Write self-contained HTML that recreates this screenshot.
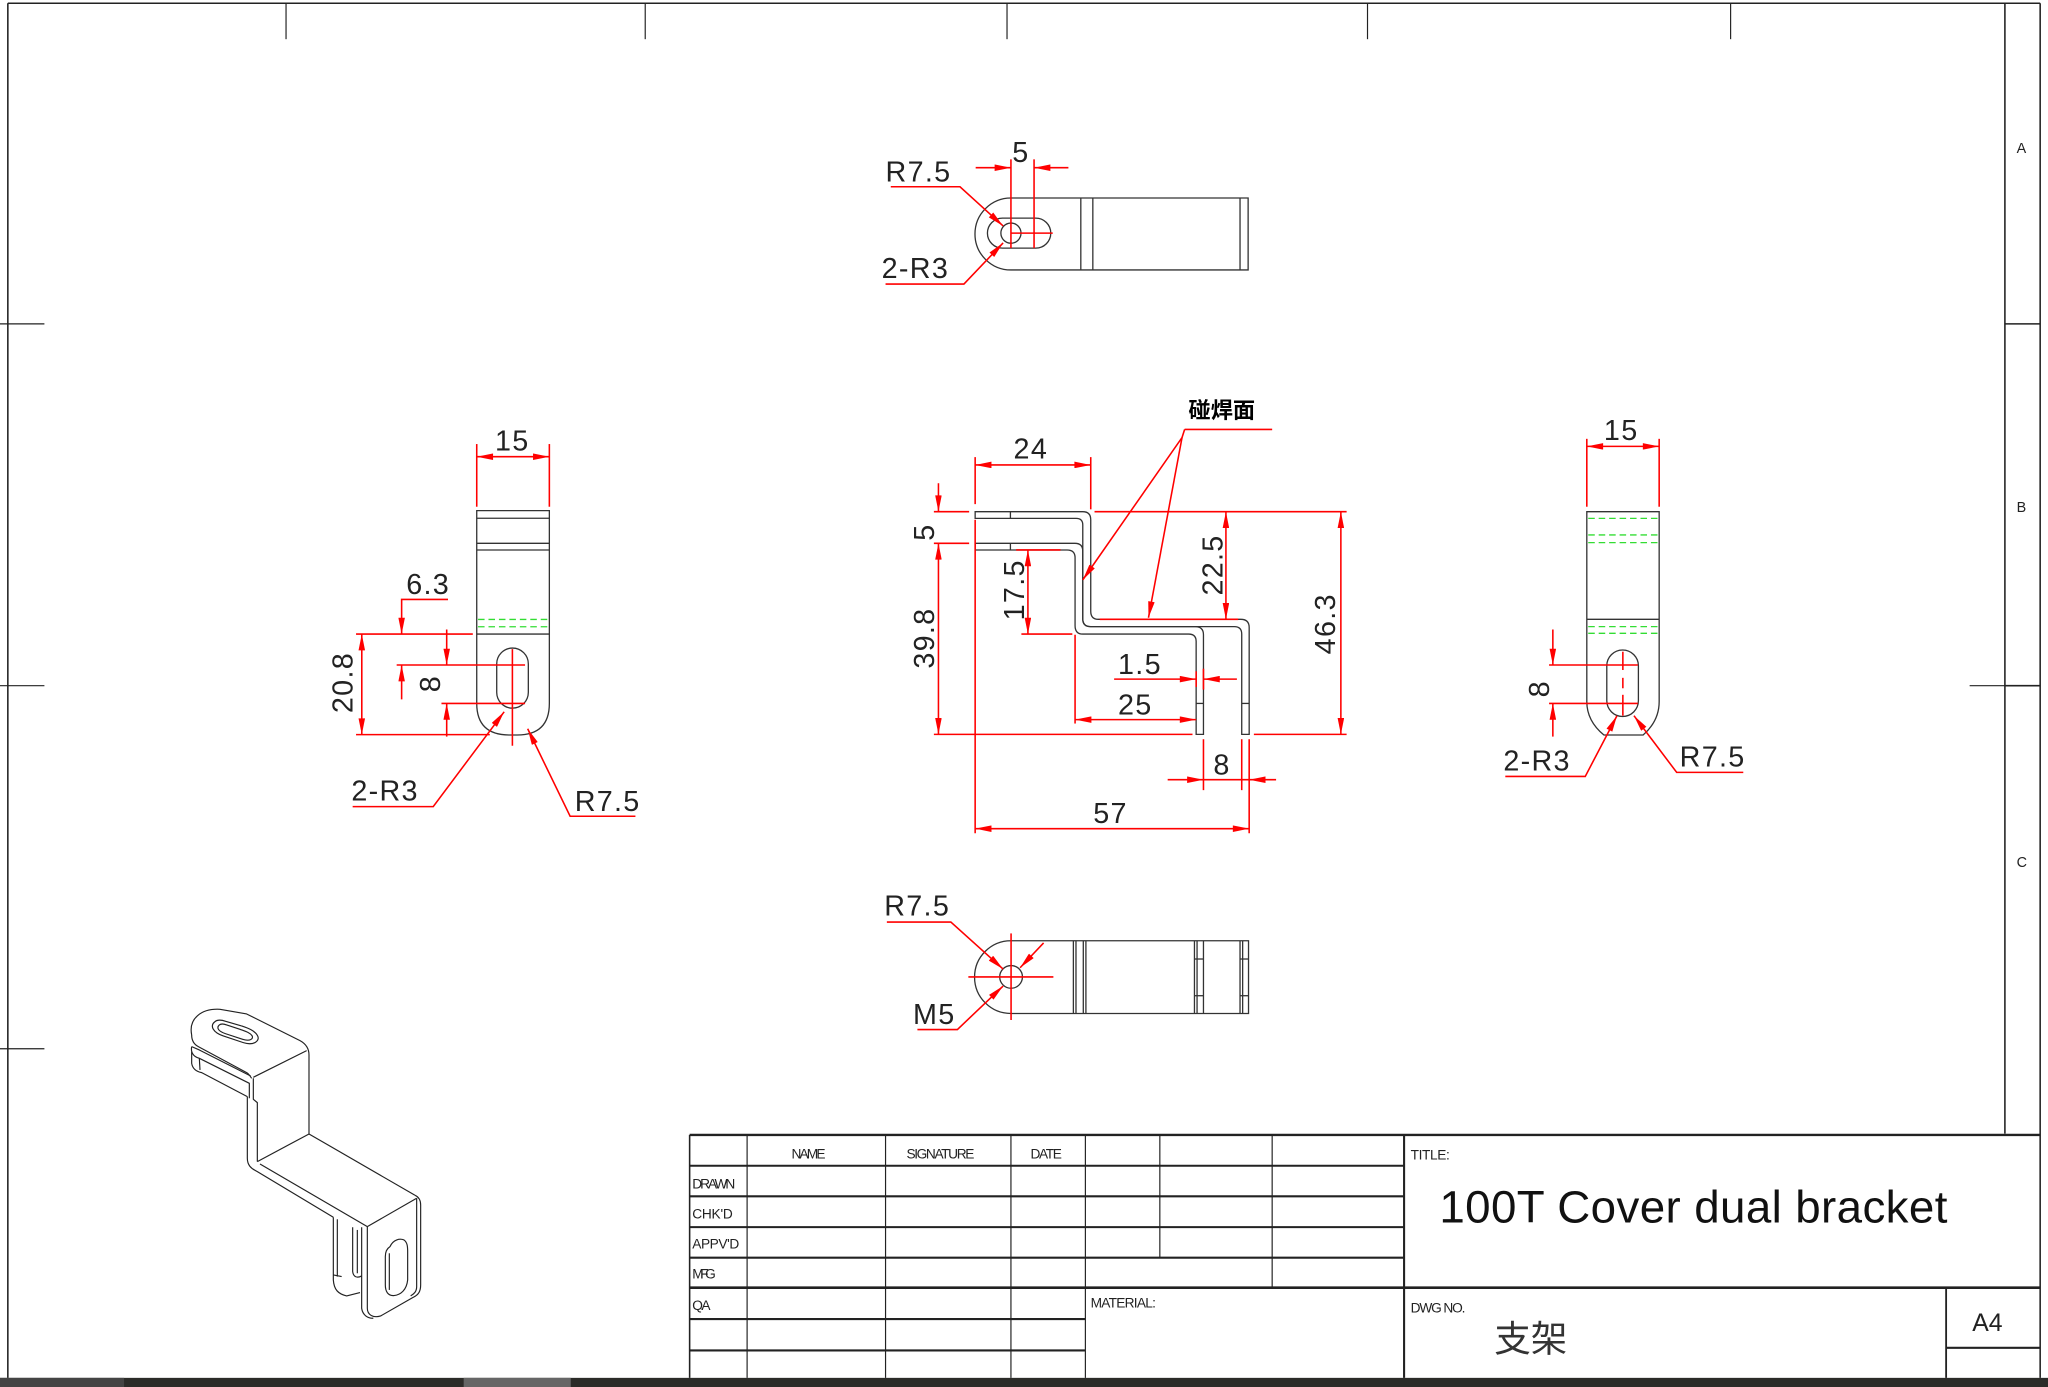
<!DOCTYPE html>
<html><head><meta charset="utf-8"><style>
html,body{margin:0;padding:0;background:#fff;}
svg{display:block;}
text{font-family:"Liberation Sans","Noto Sans CJK SC",sans-serif;}
</style></head><body>
<svg width="2048" height="1387" viewBox="0 0 1568 1062" preserveAspectRatio="none" xmlns="http://www.w3.org/2000/svg">
<defs>
<marker id="a" viewBox="0 0 10 4" refX="10" refY="2" markerWidth="14" markerHeight="5" markerUnits="userSpaceOnUse" orient="auto-start-reverse"><path d="M0,0 L10,2 L0,4z" fill="#f00"/></marker>
</defs>
<rect width="1568" height="1062" fill="#fff"/>
<!-- frame -->
<g stroke="#222" stroke-width="1.2" fill="none">
<line x1="6" y1="2.5" x2="1562" y2="2.5"/>
<line x1="6" y1="2.5" x2="6" y2="1055"/>
<line x1="1562" y1="2.5" x2="1562" y2="1055"/>
<line x1="1535" y1="2.5" x2="1535" y2="868"/>
<line x1="1535" y1="248" x2="1562" y2="248"/>
<line x1="1535" y1="525" x2="1562" y2="525"/>
<line x1="1508" y1="525" x2="1535" y2="525" stroke-width="0.9"/>
<g stroke-width="0.9">
<line x1="219" y1="2" x2="219" y2="30"/><line x1="494" y1="2" x2="494" y2="30"/>
<line x1="771" y1="2" x2="771" y2="30"/><line x1="1047" y1="2" x2="1047" y2="30"/>
<line x1="1325" y1="2" x2="1325" y2="30"/>
<line x1="0" y1="248" x2="34" y2="248"/><line x1="0" y1="525" x2="34" y2="525"/>
<line x1="0" y1="803" x2="34" y2="803"/>
</g>
</g>
<g font-size="11" fill="#222" font-family="Liberation Mono, monospace">
<text x="1544" y="117">A</text><text x="1544" y="392">B</text><text x="1544" y="664">C</text>
</g>
<rect x="0" y="1055" width="1568" height="7" fill="#2b2b28"/>
<rect x="0" y="1055" width="95" height="7" fill="#444"/>
<rect x="355" y="1055" width="82" height="7" fill="#666"/>

<!-- title block -->
<g stroke="#222" fill="none">
<line x1="528" y1="869" x2="1562" y2="869" stroke-width="1.8"/>
<line x1="528" y1="869" x2="528" y2="1055" stroke-width="1.2"/>
<line x1="1075" y1="869" x2="1075" y2="1055" stroke-width="1.6"/>
<g stroke-width="1.6">
<line x1="528" y1="892.6" x2="1075" y2="892.6"/><line x1="528" y1="916" x2="1075" y2="916"/>
<line x1="528" y1="939.6" x2="1075" y2="939.6"/><line x1="528" y1="963" x2="1075" y2="963"/>
<line x1="528" y1="986" x2="1562" y2="986" stroke-width="2"/>
<line x1="528" y1="1010" x2="831" y2="1010"/><line x1="528" y1="1034" x2="831" y2="1034"/>
<line x1="1490" y1="1032" x2="1562" y2="1032"/>
</g>
<g stroke-width="0.9">
<line x1="572" y1="869" x2="572" y2="1055"/><line x1="678" y1="869" x2="678" y2="1055"/>
<line x1="774" y1="869" x2="774" y2="1055"/><line x1="831" y1="869" x2="831" y2="1055"/>
<line x1="888" y1="869" x2="888" y2="963"/><line x1="974" y1="869" x2="974" y2="986"/>
<line x1="1490" y1="986" x2="1490" y2="1055" stroke-width="1.4"/>
</g>
</g>
<g font-family="Liberation Sans Narrow, Liberation Sans, sans-serif" font-size="10.5" fill="#222">
<text x="606" y="887" textLength="26">NAME</text>
<text x="694" y="887" textLength="52">SIGNATURE</text>
<text x="789" y="887" textLength="24">DATE</text>
<text x="530" y="910" textLength="33">DRAWN</text>
<text x="530" y="933" textLength="31">CHK'D</text>
<text x="530" y="956" textLength="36">APPV'D</text>
<text x="530" y="979" textLength="18">MFG</text>
<text x="530" y="1003" textLength="14">Q.A</text>
<text x="835" y="1001" textLength="50">MATERIAL:</text>
<text x="1080" y="888" textLength="30">TITLE:</text>
<text x="1080" y="1005" textLength="42">DWG NO.</text>
</g>
<text x="1102" y="936" font-size="35" fill="#111" textLength="389">100T Cover dual bracket</text>
<text x="1144" y="1035" font-size="28" fill="#333" font-family="Liberation Sans, Noto Sans CJK SC, sans-serif">支架</text>
<text x="1510" y="1019" font-size="19" fill="#222">A4</text>

<!-- ============ TOP VIEW ============ -->
<g stroke="#333" stroke-width="1" fill="none">
<path d="M774,151.6 H955.6 V206.7 H774 A27.55,27.55 0 0 1 774,151.6 Z"/>
<line x1="827.5" y1="151.6" x2="827.5" y2="206.7"/><line x1="836.7" y1="151.6" x2="836.7" y2="206.7"/>
<line x1="949.4" y1="151.6" x2="949.4" y2="206.7"/>
<rect x="756" y="167" width="48.5" height="23" rx="11.5"/>
<circle cx="774" cy="178.5" r="7.7"/>
</g>
<g stroke="#f00" stroke-width="1.2" fill="none">
<line x1="774" y1="122" x2="774" y2="190"/><line x1="791.7" y1="122" x2="791.7" y2="190"/>
<line x1="774" y1="178.5" x2="806" y2="178.5"/>
<line x1="747" y1="128.4" x2="774" y2="128.4" marker-end="url(#a)"/>
<line x1="818" y1="128.4" x2="791.7" y2="128.4" marker-end="url(#a)"/>
<polyline points="682,143 735,143 768,173" marker-end="url(#a)"/>
<polyline points="678,217.5 738,217.5 768,186" marker-end="url(#a)"/>
</g>
<g font-size="22" fill="#222" letter-spacing="1">
<text x="775" y="124">5</text>
<text x="678" y="139">R7.5</text>
<text x="675" y="213">2-R3</text>
</g>

<!-- ============ FRONT VIEW ============ -->
<g stroke="#333" stroke-width="1" fill="none">
<path d="M746.6,391.8 H829 Q835.1,391.8 835.1,398 V468 Q835.1,474.2 841,474.2 H950 Q956.4,474.2 956.4,480.5 V562.3 H950.7 V485.5 Q950.7,479.8 945,479.8 H835 Q829,479.8 829,474 V402 Q829,396.9 824,396.9 H746.6 Z"/>
<path d="M746.6,416 H823 Q829,416 829,422 V474 Q829,479.8 835,479.8 H915 Q921.4,479.8 921.4,486 V562.3 H915.8 V491 Q915.8,485.5 910,485.5 H829 Q823.1,485.5 823.1,479 V427 Q823.1,421.1 817,421.1 H746.6 Z"/>
<line x1="773.6" y1="391.8" x2="773.6" y2="396.9"/><line x1="773.6" y1="416" x2="773.6" y2="421.1"/>
<line x1="915.8" y1="538.6" x2="921.4" y2="538.6"/><line x1="950.7" y1="538.6" x2="956.4" y2="538.6"/>
</g>
<g stroke="#f00" stroke-width="1.2" fill="none">
<line x1="746.6" y1="350" x2="746.6" y2="386"/><line x1="835.1" y1="350" x2="835.1" y2="390"/>
<line x1="746.6" y1="356" x2="835.1" y2="356" marker-start="url(#a)" marker-end="url(#a)"/>
<line x1="715" y1="391.8" x2="742" y2="391.8"/><line x1="715" y1="416" x2="742" y2="416"/>
<line x1="718.5" y1="370" x2="718.5" y2="391.8" marker-end="url(#a)"/>
<line x1="718.5" y1="416" x2="718.5" y2="562.3" marker-start="url(#a)" marker-end="url(#a)"/>
<line x1="715" y1="562.3" x2="913" y2="562.3"/>
<line x1="778" y1="421.1" x2="812" y2="421.1"/><line x1="782" y1="485.5" x2="821" y2="485.5"/>
<line x1="787" y1="421.1" x2="787" y2="485.5" marker-start="url(#a)" marker-end="url(#a)"/>
<line x1="838" y1="391.8" x2="1031" y2="391.8"/><line x1="842" y1="474.2" x2="948" y2="474.2"/>
<line x1="938.6" y1="391.8" x2="938.6" y2="474.2" marker-start="url(#a)" marker-end="url(#a)"/>
<line x1="1026.6" y1="391.8" x2="1026.6" y2="562.3" marker-start="url(#a)" marker-end="url(#a)"/>
<line x1="960" y1="562.3" x2="1031" y2="562.3"/>
<line x1="853" y1="520" x2="915.8" y2="520" marker-end="url(#a)"/>
<line x1="947" y1="520" x2="921.4" y2="520" marker-end="url(#a)"/>
<line x1="915.8" y1="514" x2="915.8" y2="526"/><line x1="921.4" y1="512" x2="921.4" y2="528"/>
<line x1="823.1" y1="486" x2="823.1" y2="554"/>
<line x1="823.1" y1="551" x2="915.8" y2="551" marker-start="url(#a)" marker-end="url(#a)"/>
<line x1="921.4" y1="566" x2="921.4" y2="605"/><line x1="950.7" y1="566" x2="950.7" y2="605"/>
<line x1="956.4" y1="566" x2="956.4" y2="638"/>
<line x1="894" y1="597" x2="921.4" y2="597" marker-end="url(#a)"/>
<line x1="977" y1="597" x2="956.4" y2="597" marker-end="url(#a)"/>
<line x1="921.4" y1="597" x2="956.4" y2="597"/>
<line x1="746.6" y1="398" x2="746.6" y2="638"/>
<line x1="746.6" y1="634.5" x2="956.4" y2="634.5" marker-start="url(#a)" marker-end="url(#a)"/>
<line x1="907" y1="328.8" x2="974" y2="328.8"/>
<polyline points="907,328.8 905,335 829,444" marker-end="url(#a)"/>
<line x1="905" y1="335" x2="879.3" y2="473" marker-end="url(#a)"/>
</g>
<g font-size="22" fill="#222" letter-spacing="1">
<text x="776" y="351">24</text>
<text x="856" y="516">1.5</text>
<text x="856" y="547">25</text>
<text x="929" y="593">8</text>
<text x="837" y="630">57</text>
<text transform="translate(715,414) rotate(-90)">5</text>
<text transform="translate(715,512) rotate(-90)">39.8</text>
<text transform="translate(784,475) rotate(-90)">17.5</text>
<text transform="translate(936,456) rotate(-90)">22.5</text>
<text transform="translate(1022,501) rotate(-90)">46.3</text>
</g>
<text x="910" y="320" font-size="17" font-weight="bold" fill="#000" font-family="Noto Sans CJK SC, sans-serif">碰焊面</text>

<!-- ============ LEFT VIEW ============ -->
<g stroke="#333" stroke-width="1" fill="none">
<path d="M365,391 H420.6 V538.6 Q420.6,562.8 396,562.8 H390 Q365,562.8 365,538.6 Z"/>
<line x1="365" y1="396.8" x2="420.6" y2="396.8"/><line x1="365" y1="416" x2="420.6" y2="416"/>
<line x1="365" y1="421.1" x2="420.6" y2="421.1"/><line x1="365" y1="485.5" x2="420.6" y2="485.5"/>
<rect x="380.3" y="496.2" width="24.2" height="46" rx="12.1"/>
</g>
<g stroke="#3d3" stroke-width="1" stroke-dasharray="5,3">
<line x1="366" y1="474.3" x2="420" y2="474.3"/><line x1="366" y1="479.9" x2="420" y2="479.9"/>
</g>
<g stroke="#f00" stroke-width="1.2" fill="none">
<line x1="365" y1="340" x2="365" y2="388"/><line x1="420.6" y1="340" x2="420.6" y2="388"/>
<line x1="365" y1="349.7" x2="420.6" y2="349.7" marker-start="url(#a)" marker-end="url(#a)"/>
<line x1="392.3" y1="497" x2="392.3" y2="571"/>
<line x1="272.6" y1="485.5" x2="362" y2="485.5"/>
<line x1="272.6" y1="562.5" x2="375" y2="562.5"/>
<line x1="277" y1="485.5" x2="277" y2="562.5" marker-start="url(#a)" marker-end="url(#a)"/>
<line x1="303.7" y1="509.2" x2="402" y2="509.2"/><line x1="338" y1="538.6" x2="402" y2="538.6"/>
<polyline points="343,459 307.5,459 307.5,485.5" marker-end="url(#a)"/>
<line x1="307.5" y1="535.5" x2="307.5" y2="509.2" marker-end="url(#a)"/>
<line x1="342" y1="482" x2="342" y2="509.2" marker-end="url(#a)"/>
<line x1="342" y1="564" x2="342" y2="538.6" marker-end="url(#a)"/>
<polyline points="270,617.6 331.7,617.6 386,545" marker-end="url(#a)"/>
<polyline points="486.5,625 436.5,625 404,558" marker-end="url(#a)"/>
</g>
<g font-size="22" fill="#222" letter-spacing="1">
<text x="379" y="345">15</text>
<text x="311" y="455">6.3</text>
<text x="269" y="613">2-R3</text>
<text x="440" y="621">R7.5</text>
<text transform="translate(270,546) rotate(-90)">20.8</text>
<text transform="translate(337,530) rotate(-90)">8</text>
</g>

<!-- ============ RIGHT VIEW ============ -->
<g stroke="#333" stroke-width="1" fill="none">
<path d="M1214.9,391.8 H1270.3 V537.2 Q1270.3,552 1258,562.8 H1228 Q1214.9,552 1214.9,537.2 Z"/>
<line x1="1214.9" y1="474.2" x2="1270.3" y2="474.2"/>
<rect x="1230.2" y="497.7" width="24.2" height="50.9" rx="12.1"/>
</g>
<g stroke="#3d3" stroke-width="1" stroke-dasharray="5,3">
<line x1="1216" y1="396.9" x2="1270" y2="396.9"/><line x1="1216" y1="409.6" x2="1270" y2="409.6"/>
<line x1="1216" y1="415.5" x2="1270" y2="415.5"/><line x1="1216" y1="479.8" x2="1270" y2="479.8"/>
<line x1="1216" y1="484.9" x2="1270" y2="484.9"/>
</g>
<g stroke="#f00" stroke-width="1.2" fill="none">
<line x1="1214.9" y1="336" x2="1214.9" y2="388"/><line x1="1270.3" y1="336" x2="1270.3" y2="388"/>
<line x1="1214.9" y1="341.8" x2="1270.3" y2="341.8" marker-start="url(#a)" marker-end="url(#a)"/>
<line x1="1242.5" y1="499" x2="1242.5" y2="513" /><line x1="1242.5" y1="519" x2="1242.5" y2="527"/><line x1="1242.5" y1="532" x2="1242.5" y2="548"/>
<line x1="1186" y1="509.2" x2="1254" y2="509.2"/><line x1="1186" y1="538.6" x2="1254" y2="538.6"/>
<line x1="1188.9" y1="482" x2="1188.9" y2="509.2" marker-end="url(#a)"/>
<line x1="1188.9" y1="564" x2="1188.9" y2="538.6" marker-end="url(#a)"/>
<polyline points="1152.5,594.5 1213.7,594.5 1238,548" marker-end="url(#a)"/>
<polyline points="1334.7,591.4 1283.7,591.4 1251,548" marker-end="url(#a)"/>
</g>
<g font-size="22" fill="#222" letter-spacing="1">
<text x="1228" y="337">15</text>
<text x="1151" y="590">2-R3</text>
<text x="1286" y="587">R7.5</text>
<text transform="translate(1186,534) rotate(-90)">8</text>
</g>

<!-- ============ BOTTOM VIEW ============ -->
<g stroke="#333" stroke-width="1" fill="none">
<path d="M774,720.3 H955.9 V776 H774 A27.85,27.85 0 0 1 774,720.3 Z"/>
<line x1="821.8" y1="720.3" x2="821.8" y2="776"/><line x1="823.8" y1="720.3" x2="823.8" y2="776"/>
<line x1="829.4" y1="720.3" x2="829.4" y2="776"/><line x1="831.4" y1="720.3" x2="831.4" y2="776"/>
<line x1="914.5" y1="720.3" x2="914.5" y2="776"/><line x1="916.5" y1="720.3" x2="916.5" y2="776"/>
<line x1="921.4" y1="720.3" x2="921.4" y2="776"/>
<line x1="949.4" y1="720.3" x2="949.4" y2="776"/><line x1="951.4" y1="720.3" x2="951.4" y2="776"/>
<line x1="914.5" y1="734.3" x2="921.4" y2="734.3"/><line x1="914.5" y1="762.4" x2="921.4" y2="762.4"/>
<line x1="949.4" y1="734.3" x2="955.9" y2="734.3"/><line x1="949.4" y1="762.4" x2="955.9" y2="762.4"/>
<circle cx="774.1" cy="748" r="8.7"/>
</g>
<g stroke="#f00" stroke-width="1.2" fill="none">
<line x1="741.4" y1="748" x2="806.5" y2="748"/>
<line x1="774.1" y1="714.7" x2="774.1" y2="781"/>
<polyline points="679,706 728,706 768,742" marker-end="url(#a)"/>
<polyline points="702.4,788.3 733,788.3 768,755" marker-end="url(#a)"/>
<line x1="799" y1="722" x2="781" y2="741" marker-end="url(#a)"/>
</g>
<g font-size="22" fill="#222" letter-spacing="1">
<text x="677" y="701">R7.5</text>
<text x="699" y="784">M5</text>
</g>

<!-- ============ ISO VIEW ============ -->
<g transform="translate(122.5,758) scale(0.2552)" stroke="#222" stroke-width="3.5" fill="none" stroke-linejoin="round">
<path d="M95,135 C85,85 125,55 180,58 L260,72 L420,152 C440,163 447,178 447,195 L447,432"/>
<path d="M165,95 C148,108 160,128 190,138 L250,158 C282,168 302,152 292,136 C282,120 262,114 242,107 L197,94 C182,89 172,89 165,95 Z"/>
<path d="M178,105 C168,114 176,124 196,131 L248,148 C270,155 282,146 276,137 C270,128 256,124 240,118 L200,105 C190,101 183,101 178,105 Z"/>
<path d="M280,262 L440,182"/>
<path d="M275,265 C270,258 265,250 260,248 L115,170 C100,162 95,150 95,135"/>
<path d="M95,170 C92,185 98,200 118,205 L268,280 L268,325"/>
<path d="M95,170 L118,180 L272,258"/>
<path d="M95,185 L95,220 C98,238 110,245 125,248 L262,320"/>
<path d="M120,240 L118,205"/>
<path d="M280,265 L280,328 L292,338 L292,515"/>
<path d="M262,320 L262,330 L262,505 C262,525 272,535 292,545 L520,682"/>
<path d="M292,515 L447,432"/>
<path d="M300,522 L622,710"/>
<path d="M447,432 L765,616"/>
<path d="M622,710 L770,625"/>
<path d="M765,616 C778,622 782,632 782,645 L782,885 C782,905 775,915 760,922 L662,978 C640,985 622,975 622,955 L622,710"/>
<path d="M770,625 L770,890 C770,905 762,912 752,918"/>
<path d="M605,712 L605,955 C608,975 622,985 640,985"/>
<path d="M690,770 C700,748 720,745 732,750 C742,757 743,770 743,785 L743,870 C740,900 722,915 702,917 C684,918 676,905 676,885 L676,800 C676,785 682,775 690,770 Z"/>
<path d="M688,790 L688,900"/>
<path d="M520,682 L520,870 C522,900 535,912 560,918 L600,908"/>
<path d="M532,688 L532,860"/>
<path d="M578,712 L578,845 C580,862 592,865 605,858"/>
<path d="M592,720 L592,850"/>
<path d="M520,855 L545,860"/>
</g>
</svg>
</body></html>
